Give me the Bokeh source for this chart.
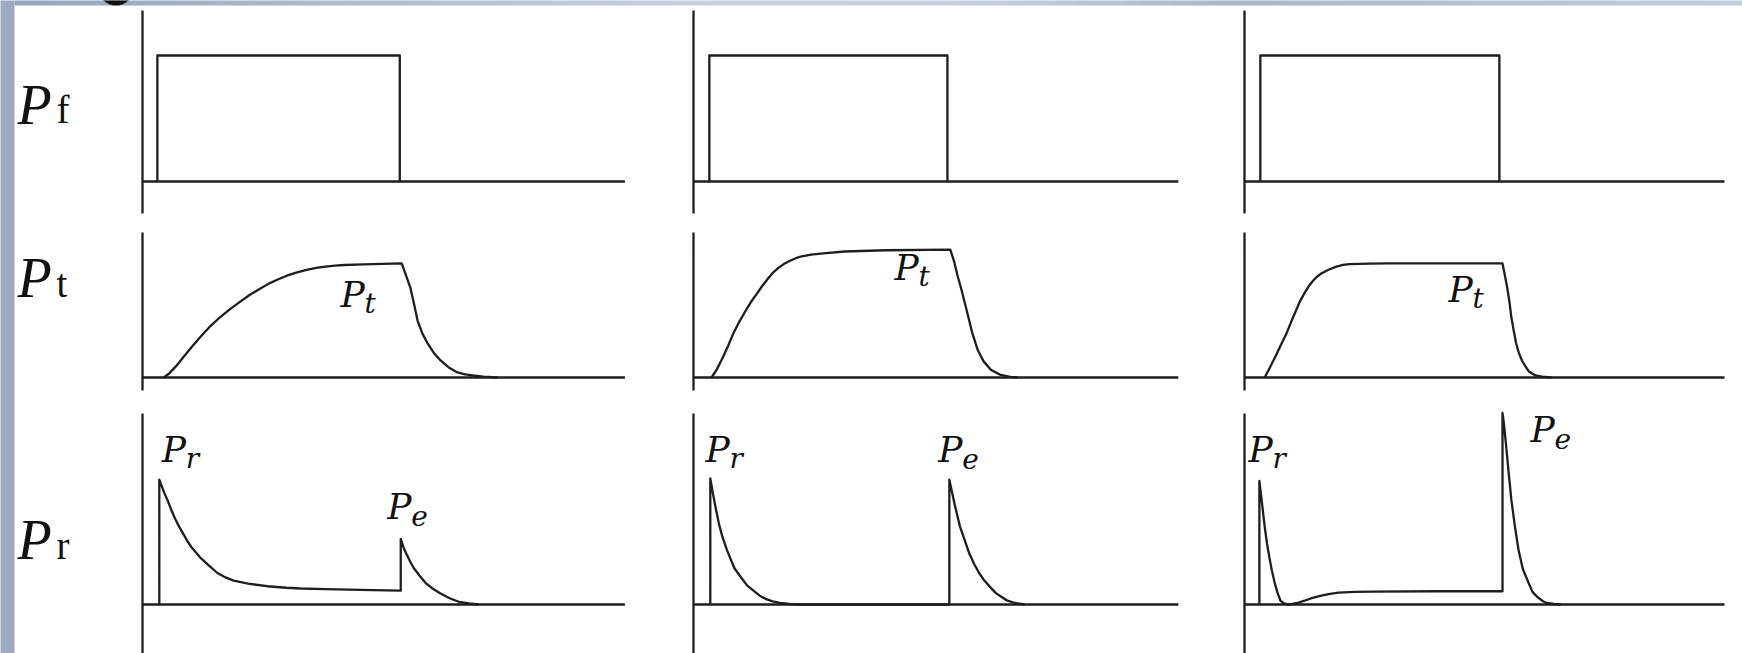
import numpy as np
from bokeh.plotting import figure
from bokeh.models import Range1d
from bokeh.core.properties import value
from bokeh.embed import file_html
from bokeh.resources import INLINE

# ---------------------------------------------------------------- data
# time in arbitrary units (pulse switched on ~0.3, off ~5.3), amplitude
# normalised to the forward pulse height

# forward pulse P_f, one per column
pf_t = [[0.31, 0.31, 5.36, 5.36],
        [0.33, 0.33, 5.29, 5.29],
        [0.33, 0.33, 5.31, 5.31]]
pf_v = [[0, 1, 1, 0],
        [0, 1, 1, 0],
        [0, 1, 1, 0]]

# transmitted power P_t
pt_t = [[0.44, 0.55, 0.70, 0.85, 1.02, 1.20, 1.42, 1.62, 1.83, 2.03, 2.23, 2.43, 2.63,
         2.83, 3.02, 3.22, 3.42, 3.62, 3.81, 4.01, 4.21, 4.60, 5.00, 5.40,
         5.49, 5.58, 5.66, 5.73, 5.83, 5.94, 6.07, 6.21, 6.38, 6.56, 6.72, 6.88, 7.10, 7.40],
        [0.375, 0.48, 0.60, 0.72, 0.83, 0.95, 1.07, 1.19, 1.31, 1.42, 1.54, 1.65, 1.77,
         1.88, 2.00, 2.12, 2.23, 2.45, 2.70, 3.15, 4.00, 5.35,
         5.43, 5.50, 5.58, 5.70, 5.81, 5.92, 6.04, 6.20, 6.40, 6.60, 6.75],
        [0.42, 0.53, 0.65, 0.76, 0.875, 0.97, 1.06, 1.15, 1.25, 1.33, 1.42, 1.51, 1.60,
         1.75, 1.90, 2.05, 2.19, 2.60, 3.00, 5.375,
         5.42, 5.47, 5.52, 5.56, 5.61, 5.66, 5.72, 5.78, 5.85, 5.92, 6.00, 6.06, 6.20, 6.40]]
pt_v = [[0, 0.03, 0.09, 0.16, 0.24, 0.32, 0.41, 0.48, 0.545, 0.60, 0.655, 0.70, 0.745,
         0.78, 0.81, 0.835, 0.855, 0.87, 0.88, 0.888, 0.893, 0.898, 0.902, 0.905,
         0.81, 0.714, 0.58, 0.452, 0.35, 0.27, 0.195, 0.135, 0.08, 0.04, 0.025, 0.016, 0.006, 0],
        [0, 0.06, 0.15, 0.25, 0.35, 0.44, 0.52, 0.595, 0.66, 0.72, 0.78, 0.83, 0.87,
         0.90, 0.925, 0.945, 0.96, 0.975, 0.985, 1.0, 1.01, 1.015,
         0.92, 0.81, 0.70, 0.52, 0.35, 0.22, 0.13, 0.06, 0.02, 0.005, 0],
        [0, 0.08, 0.17, 0.26, 0.35, 0.44, 0.52, 0.60, 0.67, 0.72, 0.765, 0.80, 0.825,
         0.855, 0.878, 0.893, 0.90, 0.904, 0.905, 0.905,
         0.82, 0.72, 0.60, 0.476, 0.37, 0.27, 0.19, 0.135, 0.09, 0.05, 0.03, 0.016, 0.006, 0]]

# reflected power P_r (leading spike P_r, trailing spike P_e)
pr_t = [[0.35, 0.35, 0.40, 0.46, 0.52, 0.60, 0.68, 0.76, 0.85, 0.94, 1.03, 1.12, 1.21, 1.38,
         1.56, 1.73, 1.90, 2.20, 2.60, 3.00, 3.30, 3.80, 4.30, 4.80, 5.38,
         5.38, 5.44, 5.50, 5.57, 5.65, 5.77, 5.90, 6.05, 6.20, 6.40, 6.60, 6.80, 7.00],
        [0.35, 0.35, 0.40, 0.46, 0.53, 0.60, 0.70, 0.85, 1.00, 1.12, 1.25, 1.38, 1.50, 1.65,
         1.80, 2.00, 2.20, 5.33,
         5.33, 5.38, 5.45, 5.55, 5.65, 5.75, 5.85, 5.95, 6.06, 6.20, 6.30, 6.42, 6.54, 6.70, 6.90],
        [0.31, 0.31, 0.35, 0.39, 0.42, 0.47, 0.52, 0.57, 0.63, 0.69, 0.75, 0.82, 0.92, 1.00,
         1.10, 1.25, 1.40, 1.60, 1.78, 1.96, 2.30, 2.69, 4.00, 5.375,
         5.375, 5.40, 5.44, 5.47, 5.51, 5.56, 5.63, 5.71, 5.80, 5.92, 6.00, 6.10, 6.20, 6.29,
         6.45, 6.60]]
pr_v = [[0, 0.99, 0.94, 0.88, 0.83, 0.75, 0.68, 0.62, 0.56, 0.50, 0.45, 0.41, 0.37, 0.31,
         0.25, 0.215, 0.19, 0.165, 0.145, 0.133, 0.127, 0.122, 0.118, 0.114, 0.11,
         0.52, 0.45, 0.40, 0.345, 0.29, 0.23, 0.17, 0.125, 0.09, 0.05, 0.02, 0.008, 0],
        [0, 1.0, 0.89, 0.77, 0.64, 0.54, 0.43, 0.29, 0.21, 0.15, 0.11, 0.07, 0.045, 0.025,
         0.012, 0.004, 0, 0,
         0.99, 0.90, 0.78, 0.62, 0.51, 0.40, 0.32, 0.25, 0.19, 0.13, 0.09, 0.06, 0.03, 0.012, 0],
        [0, 0.98, 0.85, 0.72, 0.62, 0.48, 0.37, 0.27, 0.17, 0.09, 0.03, 0.008, 0, 0.004,
         0.012, 0.03, 0.05, 0.07, 0.085, 0.095, 0.10, 0.102, 0.105, 0.105,
         1.52, 1.45, 1.30, 1.18, 1.02, 0.83, 0.63, 0.43, 0.28, 0.17, 0.10, 0.06, 0.03, 0.012,
         0.004, 0]]

traces_t = [pf_t, pt_t, pr_t]
traces_v = [pf_v, pt_v, pr_v]

# row titles (italic P with an upright subscript)
row_subs = ["f", "t", "r"]

# labels inside the panels: (row, column, subscript, t, amplitude)
inner_labels = [
    (1, 0, "t", 4.125, 0.66),
    (1, 1, "t", 4.19, 0.87),
    (1, 2, "t", 4.25, 0.698),
    (2, 0, "r", 0.40, 1.23),
    (2, 0, "e", 5.10, 0.78),
    (2, 1, "r", 0.25, 1.23),
    (2, 1, "e", 5.10, 1.23),
    (2, 2, "r", 0.083, 1.23),
    (2, 2, "e", 5.96, 1.389),
]

# ---------------------------------------------------------------- layout
W, H = 1742, 653
PX, PY = 48.0, 126.0                 # pixels per time unit / amplitude unit
axis_x = [142, 693, 1244]            # page position of each column's vertical axis
base_y = [181, 377, 604]             # page position of each row's baseline
ax_top = [10, 232, 413]
ax_bot = [213, 390, 660]
base_end = [10.05, 10.1, 10.0]
row_title_y = [0.61, 0.786, 0.508]

INK = "#1e1e1e"
LW = 2.3
STRIP = "#9caac2"
# top band colour stops (page x, rgb)
band_stops_x = [0, 400, 750, 1000, 1230, 1742]
band_stops_c = [(150, 165, 190), (178, 190, 208), (204, 211, 224),
                (196, 205, 219), (168, 181, 202), (196, 205, 219)]

ROW_FONT = "Liberation Serif"
IN_FONT = "DejaVu Serif"


def band_color(gx):
    r = np.interp(gx, band_stops_x, [c[0] for c in band_stops_c])
    g = np.interp(gx, band_stops_x, [c[1] for c in band_stops_c])
    b = np.interp(gx, band_stops_x, [c[2] for c in band_stops_c])
    return "#%02x%02x%02x" % (int(r), int(g), int(b))


# page coordinates (pixels from the top-left) for the decoration
p = figure(width=W, height=H, x_range=Range1d(0, W), y_range=Range1d(H, 0),
           output_backend="svg", toolbar_location=None,
           x_axis_location=None, y_axis_location=None,
           min_border=0, min_border_left=0, min_border_right=0,
           min_border_top=0, min_border_bottom=0)
p.grid.visible = False
p.outline_line_color = None
p.background_fill_color = "white"
p.border_fill_color = "white"

# one time scale per column and one amplitude scale per row
for c in range(3):
    p.extra_x_ranges["c%d" % c] = Range1d(-axis_x[c] / PX, (W - axis_x[c]) / PX)
for r in range(3):
    p.extra_y_ranges["r%d" % r] = Range1d(-(H - base_y[r]) / PY, base_y[r] / PY)

# page edges: left strip, shaded top band, bottom of a cut-off heading glyph
p.quad(left=-2, right=14, bottom=H + 2, top=-2, fill_color=STRIP, line_color=None)
step = 8
lefts = np.arange(14, W, step)
p.quad(left=lefts, right=lefts + step + 0.5, bottom=5, top=-2,
       fill_color=[band_color(x + step / 2) for x in lefts], line_color=None)
p.scatter(x=[115.5], y=[-13], size=36, marker="circle",
          fill_color="#111111", line_color=None)

for r in range(3):
    for c in range(3):
        xr, yr = "c%d" % c, "r%d" % r
        # axes: vertical line and baseline
        p.line([axis_x[c], axis_x[c]], [ax_top[r], ax_bot[r]], line_color=INK, line_width=LW)
        p.line([0, base_end[c]], [0, 0], line_color=INK, line_width=LW,
               x_range_name=xr, y_range_name=yr)
        # the signal itself
        p.line(traces_t[r][c], traces_v[r][c], line_color=INK, line_width=LW,
               line_join="round", x_range_name=xr, y_range_name=yr)

    # row title
    ty = row_title_y[r]
    tx = (17 - axis_x[0]) / PX
    p.text(x=[tx], y=[ty], text=["P"], text_font=value(ROW_FONT),
           text_font_style="italic", text_font_size="56px",
           text_color="#111111", text_baseline="alphabetic", text_align="left",
           x_range_name="c0", y_range_name="r%d" % r)
    p.text(x=[tx + 39 / PX], y=[ty - 5 / PY], text=[row_subs[r]],
           text_font=value(ROW_FONT), text_font_size="39px",
           text_color="#111111", text_baseline="alphabetic", text_align="left",
           x_range_name="c0", y_range_name="r%d" % r)

for (lr, lc, sub, lt, lv) in inner_labels:
    xr, yr = "c%d" % lc, "r%d" % lr
    p.text(x=[lt], y=[lv], text=["P"], text_font=value(IN_FONT),
           text_font_style="italic", text_font_size="36px",
           text_color="#111111", text_baseline="alphabetic", text_align="left",
           x_range_name=xr, y_range_name=yr)
    p.text(x=[lt + 24 / PX], y=[lv - 9 / PY], text=[sub], text_font=value(IN_FONT),
           text_font_style="italic", text_font_size="28px",
           text_color="#111111", text_baseline="alphabetic", text_align="left",
           x_range_name=xr, y_range_name=yr)

open("out.html", "w").write(file_html(p, INLINE))
